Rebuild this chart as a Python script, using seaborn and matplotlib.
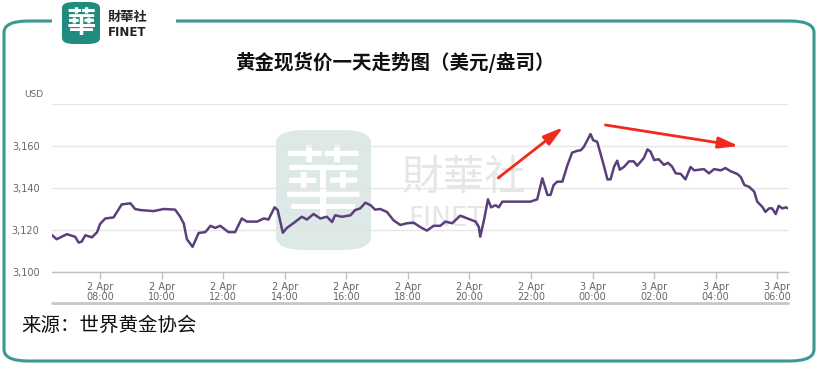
import matplotlib
matplotlib.use("Agg")
import matplotlib.pyplot as plt
import matplotlib.dates as mdates
from matplotlib.patches import FancyBboxPatch, Rectangle
from matplotlib.lines import Line2D
import pandas as pd
import seaborn as sns

# ---------------------------------------------------------------------------
# Data
# ---------------------------------------------------------------------------
TIMES = [
    "2025-04-02 06:26", "2025-04-02 06:35", "2025-04-02 06:55", "2025-04-02 07:11",
    "2025-04-02 07:18", "2025-04-02 07:24", "2025-04-02 07:31", "2025-04-02 07:44",
    "2025-04-02 07:54", "2025-04-02 08:00", "2025-04-02 08:10", "2025-04-02 08:26",
    "2025-04-02 08:42", "2025-04-02 08:59", "2025-04-02 09:08", "2025-04-02 09:18",
    "2025-04-02 09:44", "2025-04-02 10:04", "2025-04-02 10:26", "2025-04-02 10:36",
    "2025-04-02 10:43", "2025-04-02 10:49", "2025-04-02 11:00", "2025-04-02 11:12",
    "2025-04-02 11:25", "2025-04-02 11:35", "2025-04-02 11:44", "2025-04-02 11:54",
    "2025-04-02 12:10", "2025-04-02 12:23", "2025-04-02 12:36", "2025-04-02 12:46",
    "2025-04-02 13:06", "2025-04-02 13:19", "2025-04-02 13:28", "2025-04-02 13:40",
    "2025-04-02 13:46", "2025-04-02 13:56", "2025-04-02 14:04", "2025-04-02 14:17",
    "2025-04-02 14:33", "2025-04-02 14:43", "2025-04-02 14:56", "2025-04-02 15:09",
    "2025-04-02 15:22", "2025-04-02 15:32", "2025-04-02 15:38", "2025-04-02 15:51",
    "2025-04-02 16:08", "2025-04-02 16:17", "2025-04-02 16:27", "2025-04-02 16:37",
    "2025-04-02 16:47", "2025-04-02 16:56", "2025-04-02 17:06", "2025-04-02 17:19",
    "2025-04-02 17:32", "2025-04-02 17:45", "2025-04-02 17:58", "2025-04-02 18:11",
    "2025-04-02 18:24", "2025-04-02 18:37", "2025-04-02 18:50", "2025-04-02 19:03",
    "2025-04-02 19:13", "2025-04-02 19:26", "2025-04-02 19:42", "2025-04-02 19:55",
    "2025-04-02 20:12", "2025-04-02 20:18", "2025-04-02 20:21", "2025-04-02 20:29",
    "2025-04-02 20:36", "2025-04-02 20:42", "2025-04-02 20:51", "2025-04-02 20:57",
    "2025-04-02 21:04", "2025-04-02 21:26", "2025-04-02 21:59", "2025-04-02 22:12",
    "2025-04-02 22:22", "2025-04-02 22:32", "2025-04-02 22:38", "2025-04-02 22:44",
    "2025-04-02 22:51", "2025-04-02 23:01", "2025-04-02 23:11", "2025-04-02 23:20",
    "2025-04-02 23:30", "2025-04-02 23:37", "2025-04-02 23:43", "2025-04-02 23:56",
    "2025-04-03 00:01", "2025-04-03 00:09", "2025-04-03 00:19", "2025-04-03 00:29",
    "2025-04-03 00:35", "2025-04-03 00:42", "2025-04-03 00:48", "2025-04-03 00:53",
    "2025-04-03 01:01", "2025-04-03 01:11", "2025-04-03 01:20", "2025-04-03 01:27",
    "2025-04-03 01:40", "2025-04-03 01:47", "2025-04-03 01:53", "2025-04-03 02:00",
    "2025-04-03 02:09", "2025-04-03 02:19", "2025-04-03 02:27", "2025-04-03 02:35",
    "2025-04-03 02:42", "2025-04-03 02:52", "2025-04-03 03:01", "2025-04-03 03:11",
    "2025-04-03 03:18", "2025-04-03 03:27", "2025-04-03 03:37", "2025-04-03 03:47",
    "2025-04-03 03:57", "2025-04-03 04:10", "2025-04-03 04:19", "2025-04-03 04:29",
    "2025-04-03 04:42", "2025-04-03 04:49", "2025-04-03 04:56", "2025-04-03 05:05",
    "2025-04-03 05:15", "2025-04-03 05:21", "2025-04-03 05:31", "2025-04-03 05:37",
    "2025-04-03 05:44", "2025-04-03 05:50", "2025-04-03 05:57", "2025-04-03 06:03",
    "2025-04-03 06:10", "2025-04-03 06:17", "2025-04-03 06:21",
]

PRICES = [
    3117.6, 3115.6, 3118.0, 3116.8, 3114.0, 3114.5, 3117.5, 3116.5,
    3119.0, 3123.0, 3125.5, 3126.0, 3132.2, 3132.7, 3130.0, 3129.5,
    3129.0, 3130.0, 3129.7, 3126.3, 3123.0, 3115.6, 3112.0, 3118.6,
    3119.0, 3122.0, 3121.0, 3122.0, 3119.0, 3119.0, 3125.5, 3124.0,
    3124.0, 3125.5, 3125.0, 3130.8, 3129.5, 3118.7, 3121.0, 3123.3,
    3126.3, 3125.0, 3127.6, 3125.5, 3126.3, 3123.8, 3127.0, 3126.3,
    3127.0, 3129.5, 3130.3, 3133.0, 3131.8, 3129.7, 3130.0, 3128.6,
    3124.6, 3122.4, 3123.2, 3123.5, 3121.4, 3119.7, 3122.0, 3122.0,
    3124.0, 3123.2, 3126.8, 3125.6, 3124.0, 3121.5, 3116.8, 3125.6,
    3134.6, 3130.8, 3131.8, 3130.8, 3133.5, 3133.5, 3133.5, 3134.6,
    3144.6, 3136.7, 3136.7, 3141.4, 3143.0, 3143.0, 3150.9, 3156.8,
    3157.7, 3158.0, 3159.6, 3165.7, 3162.8, 3162.0, 3153.3, 3144.1,
    3144.1, 3150.2, 3153.0, 3148.7, 3150.0, 3152.7, 3152.7, 3150.6,
    3154.3, 3158.4, 3157.3, 3153.3, 3153.7, 3151.0, 3152.0, 3150.2,
    3147.0, 3146.7, 3144.1, 3150.0, 3148.4, 3148.7, 3149.0, 3147.0,
    3149.0, 3148.4, 3149.5, 3148.0, 3146.7, 3145.2, 3141.4, 3140.6,
    3138.3, 3133.5, 3131.0, 3128.6, 3130.3, 3130.3, 3127.6, 3131.5,
    3130.3, 3130.8, 3130.3,
]

Y_TICKS = [3100, 3120, 3140, 3160, 3180]
Y_TICK_LABELS = ["3,100", "3,120", "3,140", "3,160", ""]

TITLE = "黄金现货价一天走势图（美元/盎司）"
SOURCE = "来源：世界黄金协会"

# arrows drawn on the chart (start -> end, in data coords)
ARROW_UP = (("2025-04-02 20:56", 3144.8), ("2025-04-02 23:03", 3169.0))
ARROW_DOWN = (("2025-04-03 00:25", 3170.0), ("2025-04-03 04:45", 3160.0))

LINE_COLOR = "#5b3f7c"
TEAL = "#3a9990"

# ---------------------------------------------------------------------------
# Plot
# ---------------------------------------------------------------------------
sns.set_theme(style="white")
plt.rcParams["font.family"] = ["Noto Sans CJK SC", "DejaVu Sans"]

df = pd.DataFrame({"time": pd.to_datetime(TIMES), "price": PRICES})

W, H = 817, 383
fig = plt.figure(figsize=(W / 100, H / 100), dpi=100)


def fx(px):
    return px / W


def fy(py):
    return 1 - py / H


# outer rounded frame
frame = FancyBboxPatch((fx(4), fy(361)), fx(810), (361 - 21) / H,
                       boxstyle="round,pad=0,rounding_size=0.03",
                       transform=fig.transFigure, fill=False,
                       edgecolor=TEAL, linewidth=2.2, zorder=-3)
fig.patches.append(frame)
# gap in the top edge for the logo
fig.patches.append(Rectangle((fx(52), fy(30)), fx(124), 20 / H,
                             transform=fig.transFigure, facecolor="white",
                             edgecolor="none", zorder=-2))

# top-left logo
fig.patches.append(FancyBboxPatch((fx(62), fy(44)), fx(38), 42 / H,
                                  boxstyle="round,pad=0,rounding_size=0.015",
                                  transform=fig.transFigure, facecolor="#1f8c7e",
                                  edgecolor="none", zorder=2))
fig.text(fx(81), fy(23), "華", color="white", fontsize=21, fontweight="bold",
         ha="center", va="center", family=["Noto Sans CJK TC"], zorder=3)
fig.text(fx(108), fy(17), "財華社", color="#222222", fontsize=9.5,
         fontweight="bold", ha="left", va="center",
         family=["Noto Sans CJK TC"], zorder=3)
fig.text(fx(108), fy(32), "FINET", color="#222222", fontsize=8.5,
         fontweight="bold", ha="left", va="center", family=["DejaVu Sans"],
         zorder=3)

# watermark (behind the axes)
fig.patches.append(FancyBboxPatch((fx(276), fy(250)), fx(95), 120 / H,
                                  boxstyle="round,pad=0,rounding_size=0.035",
                                  transform=fig.transFigure, facecolor="#dce9e7",
                                  edgecolor="none", zorder=-1))
fig.text(fx(323), fy(190), "華", color="white", fontsize=58, ha="center",
         va="center", family=["Noto Sans CJK TC"], zorder=-0.5)
fig.text(fx(402), fy(178), "財華社", color="#e6e6e6", fontsize=30,
         ha="left", va="center", family=["Noto Sans CJK TC"], zorder=-0.5)
fig.text(fx(408), fy(219), "FINET", color="#e6e6e6", fontsize=19,
         ha="left", va="center", family=["DejaVu Sans"], zorder=-0.5)

ax = fig.add_axes([fx(52), fy(272), fx(788 - 52), (272 - 104) / H])
ax.patch.set_alpha(0)

sns.lineplot(data=df, x="time", y="price", ax=ax, color=LINE_COLOR,
             linewidth=1.8, zorder=3)

ax.set_xlim(df["time"].min(), df["time"].max())
ax.set_ylim(3100, 3180)
ax.set_yticks(Y_TICKS)
ax.set_yticklabels(Y_TICK_LABELS)
ax.set_xlabel("")
ax.set_ylabel("")

ax.xaxis.set_major_locator(mdates.HourLocator(byhour=range(0, 24, 2)))
ax.xaxis.set_major_formatter(mdates.DateFormatter("%-d %b\n%H:%M"))

ax.grid(axis="y", color="#e6e6e6", linewidth=1)
ax.grid(axis="x", visible=False)
for side in ["top", "right", "left"]:
    ax.spines[side].set_visible(False)
ax.spines["bottom"].set_color("#c0c0c0")
ax.spines["bottom"].set_linewidth(1)

ax.tick_params(axis="x", which="major", bottom=True, length=5, width=1,
               color="#c0c0c0", labelsize=7, labelcolor="#666666", pad=2)
ax.tick_params(axis="y", left=False, labelsize=7, labelcolor="#666666", pad=3)
for lbl in ax.get_xticklabels():
    lbl.set_family(["DejaVu Sans"])
    lbl.set_linespacing(1.0)
for lbl in ax.get_yticklabels():
    lbl.set_family(["DejaVu Sans"])

ax.text(-0.012, 1.03, "USD", transform=ax.transAxes, ha="right", va="bottom",
        fontsize=6.5, color="#666666", family=["DejaVu Sans"])

# red trend arrows
for (t0, p0), (t1, p1) in (ARROW_UP, ARROW_DOWN):
    ax.annotate("", xy=(pd.Timestamp(t1), p1), xytext=(pd.Timestamp(t0), p0),
                xycoords="data", textcoords="data", annotation_clip=False,
                arrowprops=dict(arrowstyle="-|>,head_length=1.0,head_width=0.28",
                                color="#f02a1e", linewidth=2.0,
                                shrinkA=0, shrinkB=0),
                zorder=4)

# navigator line under the axis labels
fig.add_artist(Line2D([fx(52), fx(788)], [fy(303), fy(303)],
                      transform=fig.transFigure, color="#c8c8c8",
                      linewidth=2))

fig.text(fx(395), fy(62), TITLE, ha="center", va="center", fontsize=14,
         fontweight="bold", color="#111111")
fig.text(fx(21), fy(325), SOURCE, ha="left", va="center", fontsize=14,
         color="#111111")

fig.savefig("out.png", dpi=100)
